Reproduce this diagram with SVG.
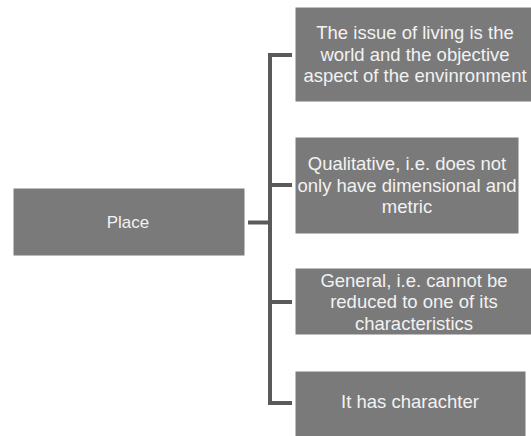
<svg xmlns="http://www.w3.org/2000/svg" width="531" height="436" viewBox="0 0 531 436">
<style>
.box{fill:#7a7a7a;stroke:#ffffff;stroke-width:1}
.t{font-family:"Liberation Sans",Arial,sans-serif;font-size:18.5px;fill:#f2f2f2;text-anchor:middle}
.p{font-size:17px}
.c{stroke:#5a5a5a;stroke-width:4;fill:none}
</style>
<rect width="531" height="436" fill="#ffffff"/>
<g id="connectors">
<path class="c" d="M248 222.5H270"/>
<path class="c" d="M292 55H270V403H292"/>
<path class="c" d="M270 185H292"/>
<path class="c" d="M270 302H292"/>
</g>
<g id="place">
<rect class="box" x="13" y="188" width="232" height="68"/>
<text class="t p" x="128" y="228">Place</text>
</g>
<g id="n1">
<rect class="box" x="295" y="7" width="240" height="95"/>
<text class="t" x="415" y="39">The issue of living is the</text>
<text class="t" x="415" y="61">world and the objective</text>
<text class="t" x="415" y="82">aspect of the envinronment</text>
</g>
<g id="n2">
<rect class="box" x="295" y="137" width="224" height="97"/>
<text class="t" x="407" y="170">Qualitative, i.e. does not</text>
<text class="t" x="407" y="192">only have dimensional and</text>
<text class="t" x="407" y="213">metric</text>
</g>
<g id="n3">
<rect class="box" x="295" y="268" width="240" height="67"/>
<text class="t" x="414" y="287">General, i.e. cannot be</text>
<text class="t" x="414" y="308">reduced to one of its</text>
<text class="t" x="414" y="330">characteristics</text>
</g>
<g id="n4">
<rect class="box" x="295" y="371" width="231" height="70"/>
<text class="t" x="410" y="408">It has charachter</text>
</g>
</svg>
